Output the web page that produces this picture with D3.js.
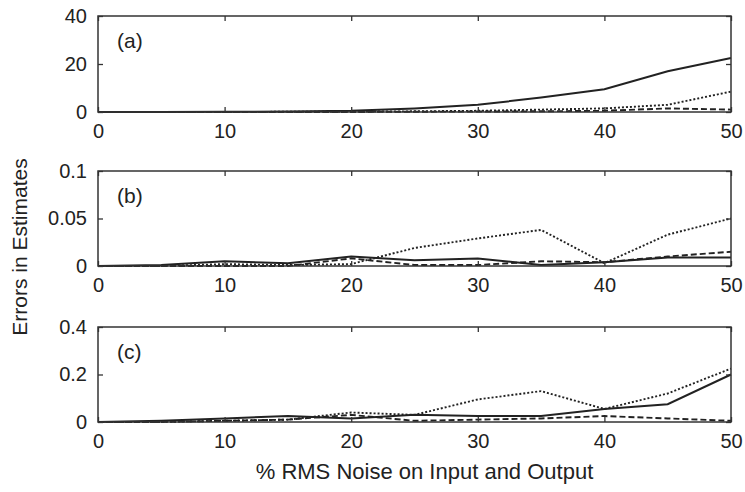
<!DOCTYPE html>
<html><head><meta charset="utf-8">
<script src="https://cdn.jsdelivr.net/npm/d3@7"></script>
<style>body{margin:0;background:#fff}svg{display:block}text{font-family:"Liberation Sans",Arial,sans-serif;fill:#222}</style>
</head><body><svg id="c" width="745" height="492"></svg>
<script>
const noise = [0,5,10,15,20,25,30,35,40,45,50];
const xTicks = [0,10,20,30,40,50];
const panelLabels = ["(a)","(b)","(c)"];
const yDomains = [[0,40],[0,0.1],[0,0.4]];
const yTicksA = [0,20,40];
const yTicksB = [0,0.05,0.1];
const yTicksC = [0,0.2,0.4];
const aSolid  = [0,0.05,0.1,0.2,0.5,1.5,3,6,9.5,17,22.5];
const aDotted = [0,0,0,0.1,0.1,0.3,0.5,1,1.5,3,8.5];
const aDashed = [0,0,0,0,0,0.1,0.2,0.3,0.5,1.5,1];
const bSolid  = [0,0.001,0.005,0.003,0.010,0.006,0.008,0.001,0.004,0.009,0.009];
const bDotted = [0,0,0.002,0.001,0.002,0.019,0.029,0.038,0.003,0.033,0.050];
const bDashed = [0,0,0,0,0.008,0.001,0.001,0.005,0.004,0.010,0.015];
const cSolid  = [0,0.005,0.015,0.025,0.015,0.03,0.025,0.025,0.055,0.075,0.2];
const cDotted = [0,0,0.005,0.01,0.04,0.03,0.095,0.13,0.055,0.12,0.225];
const cDashed = [0,0,0.005,0.01,0.03,0.005,0.01,0.015,0.025,0.015,0.005];

const panels = [
  {label:panelLabels[0], dom:yDomains[0], ticks:yTicksA, top:16, bottom:112, series:[aSolid,aDotted,aDashed]},
  {label:panelLabels[1], dom:yDomains[1], ticks:yTicksB, top:171, bottom:266, series:[bSolid,bDotted,bDashed]},
  {label:panelLabels[2], dom:yDomains[2], ticks:yTicksC, top:327, bottom:422, series:[cSolid,cDotted,cDashed]}
];
const styles = [null,"2,2","6,3"];
const L = 98, R = 731;
const svg = d3.select("#c");
const x = d3.scaleLinear().domain([0,50]).range([L,R]);
const ink = "#222";
const fmt = d => d===0 ? "0" : String(d);

panels.forEach(p => {
  const y = d3.scaleLinear().domain(p.dom).range([p.bottom,p.top]);
  const g = svg.append("g");
  const line = d3.line().x((d,i)=>x(noise[i])).y(d=>y(d));
  p.series.forEach((s,k) => {
    g.append("path").datum(s).attr("d",line).attr("fill","none")
      .attr("stroke",ink).attr("stroke-width",k===0?2:1.9)
      .attr("stroke-dasharray",styles[k]);
  });
  g.append("rect").attr("x",L).attr("y",p.top).attr("width",R-L).attr("height",p.bottom-p.top)
    .attr("fill","none").attr("stroke","#333").attr("stroke-width",1.5);
  const xb = d3.axisBottom(x).tickValues(xTicks).tickSize(-5).tickPadding(12).tickFormat(fmt);
  const gx = g.append("g").attr("transform",`translate(0,${p.bottom})`).call(xb);
  const xt = d3.axisTop(x).tickValues(xTicks).tickSize(-5).tickFormat("");
  const gxt = g.append("g").attr("transform",`translate(0,${p.top})`).call(xt);
  const yl = d3.axisLeft(y).tickValues(p.ticks).tickSize(-5).tickPadding(11).tickFormat(fmt);
  const gy = g.append("g").attr("transform",`translate(${L},0)`).call(yl);
  const yr = d3.axisRight(y).tickValues(p.ticks).tickSize(-5).tickFormat("");
  const gyr = g.append("g").attr("transform",`translate(${R},0)`).call(yr);
  [gx,gxt,gy,gyr].forEach(a => {
    a.select(".domain").remove();
    a.selectAll(".tick line").attr("stroke","#333").attr("stroke-width",1.3);
    a.selectAll("text").style("font-size","20px").attr("fill",ink);
  });
  gx.selectAll("text").attr("dy","0.71em");
  g.append("text").attr("x",L+19).attr("y",p.top+32).text(p.label).style("font-size","21px");
});

svg.append("text").attr("x",(L+R)/2+10).attr("y",479).attr("text-anchor","middle")
  .style("font-size","22px").text("% RMS Noise on Input and Output");
svg.append("text").attr("transform","translate(27,247) rotate(-90)").attr("text-anchor","middle")
  .style("font-size","21px").text("Errors in Estimates");
</script></body></html>
